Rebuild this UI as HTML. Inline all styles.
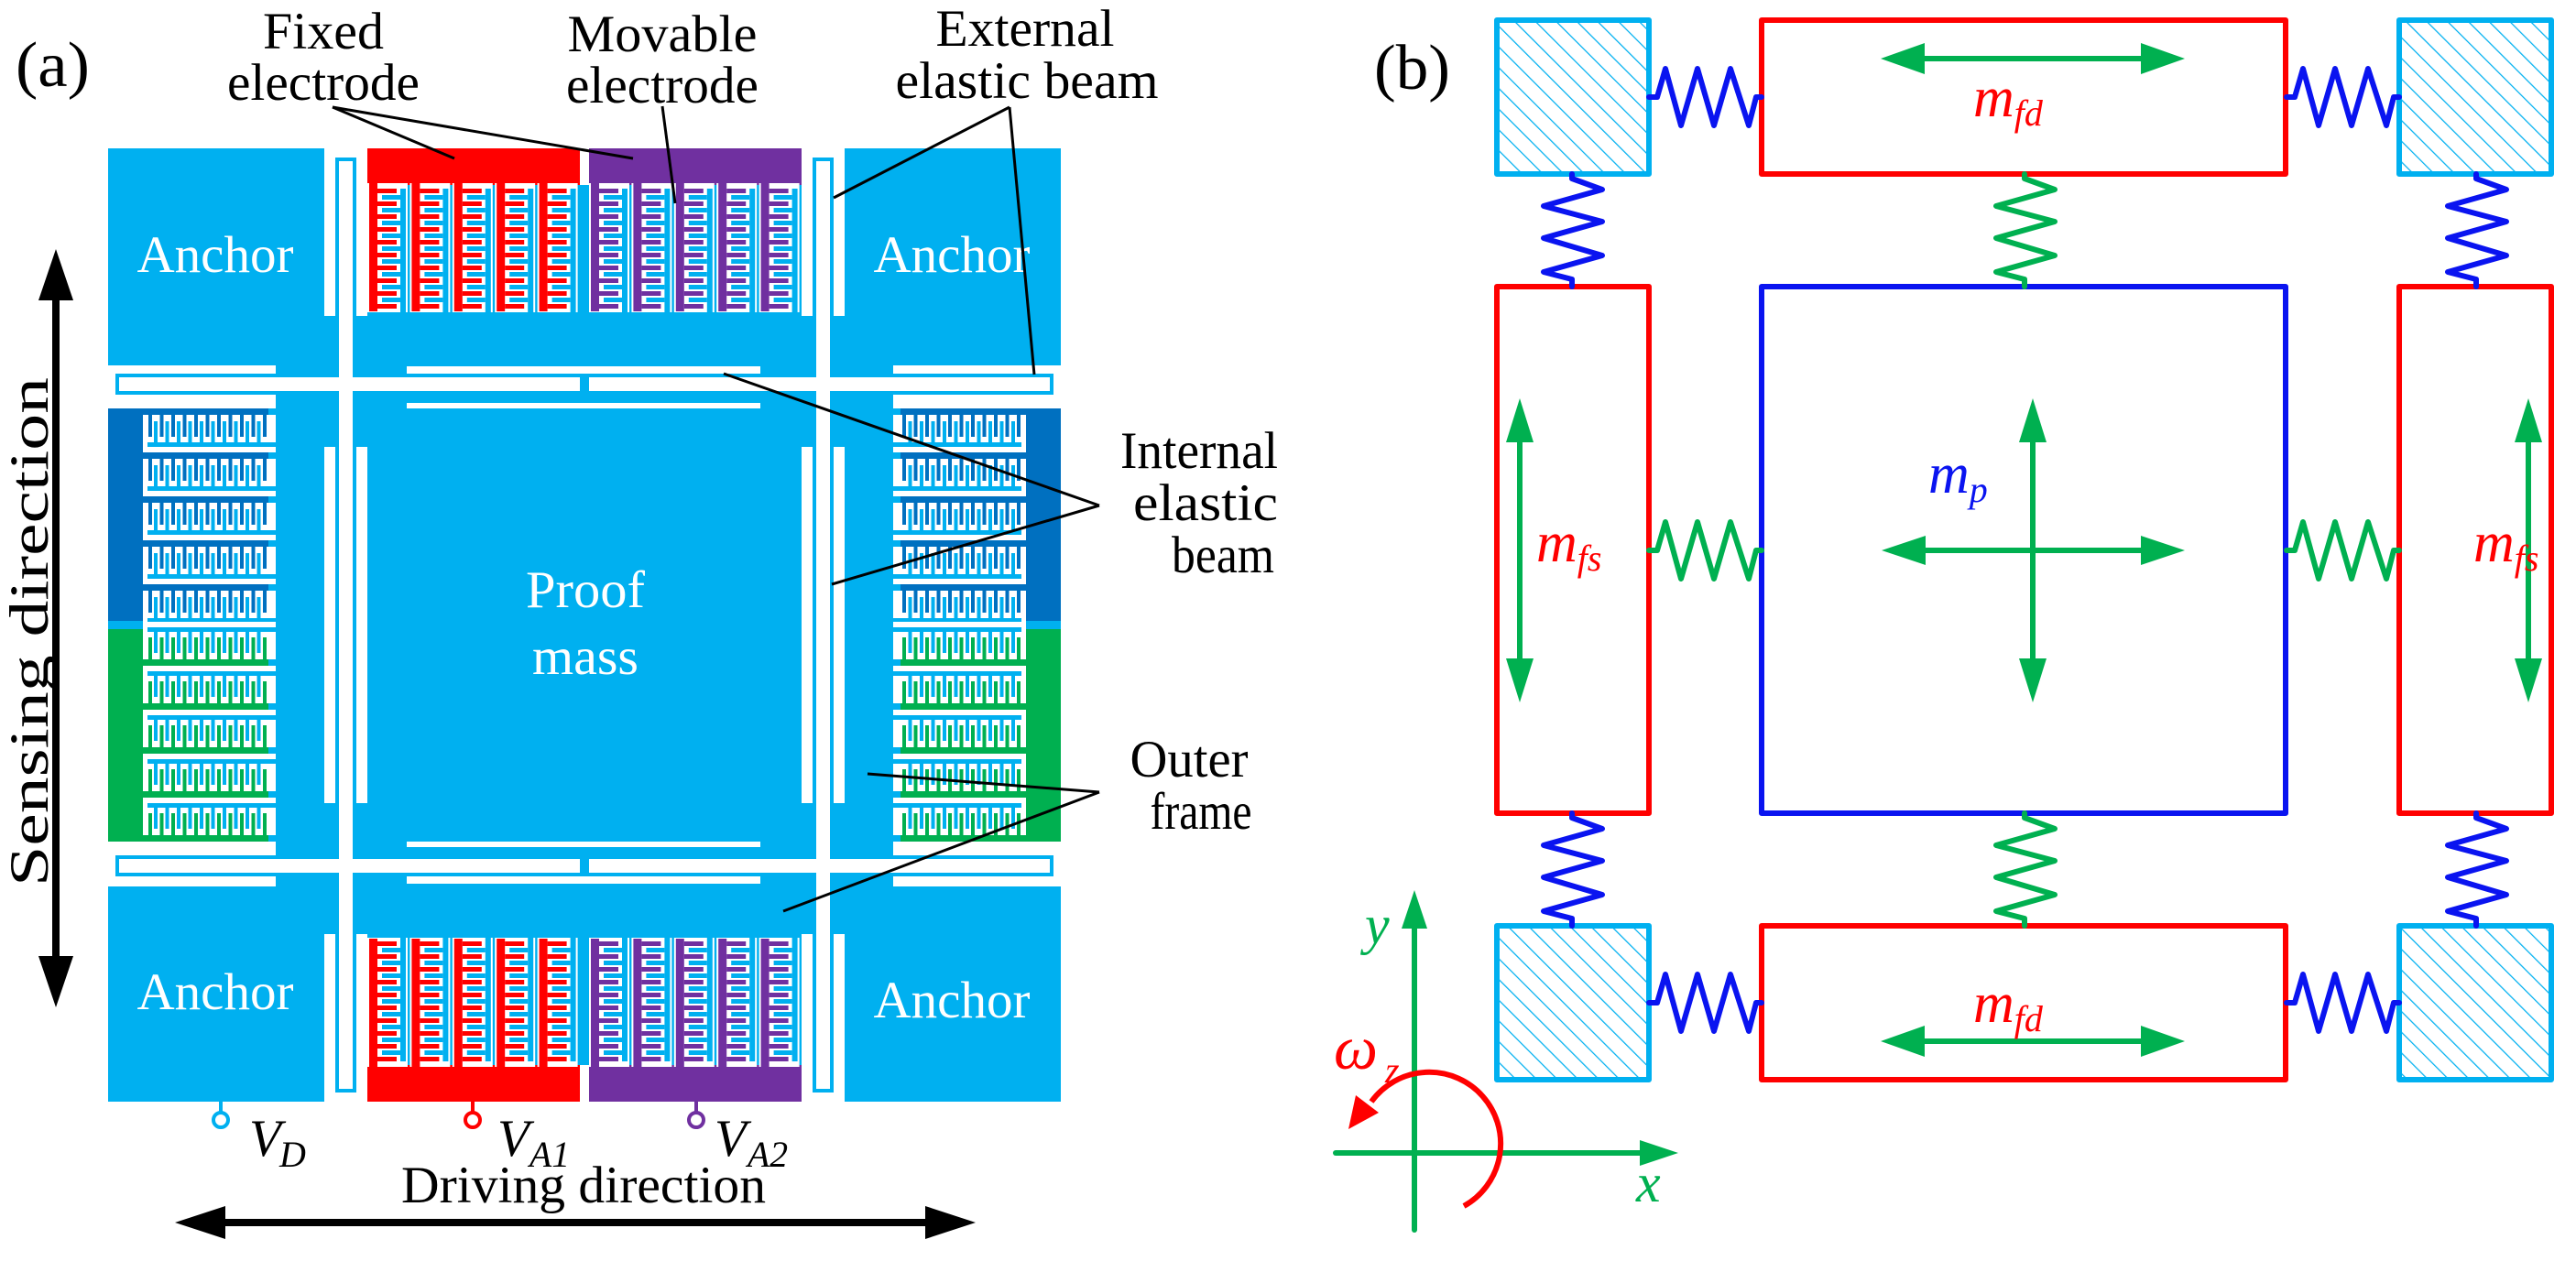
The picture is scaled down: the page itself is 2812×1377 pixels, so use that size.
<!DOCTYPE html>
<html><head><meta charset="utf-8"><style>
html,body{margin:0;padding:0;background:#fff;}
svg{display:block;}
svg text{font-family:"Liberation Serif","DejaVu Serif","Times New Roman",serif;}
</style></head><body>
<svg width="2812" height="1377" viewBox="0 0 2812 1377" xmlns="http://www.w3.org/2000/svg">
<defs>
<pattern id="hatch" width="16" height="16" patternUnits="userSpaceOnUse" patternTransform="rotate(-45)">
<line x1="0" y1="0" x2="0" y2="16" stroke="#00B0F0" stroke-width="2.5"/>
</pattern>
<g id="tu">
<rect x="0" y="0" width="44" height="141" fill="#fff"/>
<rect x="2" y="-2" width="9" height="142" fill="currentColor"/>
<g fill="currentColor">
<rect x="11" y="6" width="21" height="5"/><rect x="11" y="20" width="21" height="5"/><rect x="11" y="34" width="21" height="5"/><rect x="11" y="48" width="21" height="5"/><rect x="11" y="62" width="21" height="5"/><rect x="11" y="76" width="21" height="5"/><rect x="11" y="90" width="21" height="5"/><rect x="11" y="104" width="21" height="5"/><rect x="11" y="118" width="21" height="5"/><rect x="11" y="132" width="21" height="5"/>
</g>
<rect x="36" y="6" width="6" height="140" fill="#00B0F0"/>
<g fill="#00B0F0">
<rect x="16" y="13" width="20" height="5"/><rect x="16" y="27" width="20" height="5"/><rect x="16" y="41" width="20" height="5"/><rect x="16" y="55" width="20" height="5"/><rect x="16" y="69" width="20" height="5"/><rect x="16" y="83" width="20" height="5"/><rect x="16" y="97" width="20" height="5"/><rect x="16" y="111" width="20" height="5"/><rect x="16" y="125" width="20" height="5"/>
</g>
</g>
<g id="sr">
<rect x="38" y="0" width="137" height="7" fill="currentColor"/>
<rect x="38" y="7" width="145" height="41" fill="#fff"/>
<g fill="currentColor">
<rect x="44" y="7" width="4" height="24"/><rect x="56.5" y="7" width="4" height="24"/><rect x="69" y="7" width="4" height="24"/><rect x="81.5" y="7" width="4" height="24"/><rect x="94" y="7" width="4" height="24"/><rect x="106.5" y="7" width="4" height="24"/><rect x="119" y="7" width="4" height="24"/><rect x="131.5" y="7" width="4" height="24"/><rect x="144" y="7" width="4" height="24"/><rect x="156.5" y="7" width="4" height="24"/><rect x="169" y="7" width="4" height="24"/>
</g>
<g fill="#00B0F0">
<rect x="50" y="14" width="4" height="24"/><rect x="62.5" y="14" width="4" height="24"/><rect x="75" y="14" width="4" height="24"/><rect x="87.5" y="14" width="4" height="24"/><rect x="100" y="14" width="4" height="24"/><rect x="112.5" y="14" width="4" height="24"/><rect x="125" y="14" width="4" height="24"/><rect x="137.5" y="14" width="4" height="24"/><rect x="150" y="14" width="4" height="24"/><rect x="162.5" y="14" width="4" height="24"/>
<rect x="43" y="37" width="140" height="5"/>
</g>
</g>
<g id="sblock">
<rect x="118" y="446" width="38" height="232" fill="currentColor"/>
<use href="#sr" x="118" y="446"/><use href="#sr" x="118" y="494"/><use href="#sr" x="118" y="542"/><use href="#sr" x="118" y="590"/><use href="#sr" x="118" y="638"/>
</g>
<g id="topel">
<rect x="401" y="162" width="232" height="40" fill="#FF0000"/>
<rect x="643" y="162" width="232" height="40" fill="#7030A0"/>
<g color="#FF0000"><use href="#tu" x="401" y="200"/><use href="#tu" x="447.4" y="200"/><use href="#tu" x="493.8" y="200"/><use href="#tu" x="540.2" y="200"/><use href="#tu" x="586.6" y="200"/></g>
<g color="#7030A0"><use href="#tu" x="643" y="200"/><use href="#tu" x="689.4" y="200"/><use href="#tu" x="735.8" y="200"/><use href="#tu" x="782.2" y="200"/><use href="#tu" x="828.6" y="200"/></g>
</g>
</defs>

<rect x="118" y="162" width="1040" height="1041" fill="#00B0F0"/>
<g fill="#fff">
<rect x="354" y="162" width="47" height="183"/><rect x="354" y="488" width="47" height="389"/><rect x="354" y="1020" width="47" height="183"/>
<rect x="875" y="162" width="47" height="183"/><rect x="875" y="488" width="47" height="389"/><rect x="875" y="1020" width="47" height="183"/>
<rect x="118" y="399" width="183" height="47"/><rect x="118" y="919" width="183" height="49"/>
<rect x="975" y="399" width="183" height="47"/><rect x="975" y="919" width="183" height="49"/>
<rect x="633" y="162" width="10" height="40"/><rect x="633" y="1163" width="10" height="40"/>
</g>
<use href="#topel"/>
<use href="#topel" transform="translate(0,1365) scale(1,-1)"/>
<g id="leftcombs">
<use href="#sblock" color="#0070C0"/>
<use href="#sblock" color="#00B050" transform="translate(0,1365) scale(1,-1)"/>
</g>
<use href="#leftcombs" transform="translate(1276,0) scale(-1,1)"/>
<g fill="#00B0F0">
<rect x="366" y="172" width="23" height="1021"/>
<rect x="887" y="172" width="23" height="1021"/>
<rect x="126" y="408" width="1024" height="23"/>
<rect x="126" y="934" width="1024" height="23"/>
</g>
<g fill="#fff">
<rect x="370" y="176" width="15" height="1013"/>
<rect x="891" y="176" width="15" height="1013"/>
<rect x="130" y="412" width="1016" height="15"/>
<rect x="130" y="938" width="1016" height="15"/>
<rect x="444" y="400" width="386" height="8"/><rect x="444" y="440" width="386" height="6"/>
<rect x="444" y="919" width="386" height="6"/><rect x="444" y="957" width="386" height="8"/>
</g>
<g fill="#00B0F0"><rect x="633" y="408" width="10" height="23"/><rect x="633" y="934" width="10" height="23"/></g>

<g fill="#fff" font-size="57" text-anchor="middle">
<text x="235" y="297" textLength="171" lengthAdjust="spacingAndGlyphs">Anchor</text>
<text x="1039" y="297" textLength="171" lengthAdjust="spacingAndGlyphs">Anchor</text>
<text x="235" y="1102" textLength="171" lengthAdjust="spacingAndGlyphs">Anchor</text>
<text x="1039" y="1111" textLength="171" lengthAdjust="spacingAndGlyphs">Anchor</text>
<text x="639" y="663" textLength="130" lengthAdjust="spacingAndGlyphs">Proof</text>
<text x="639" y="736" textLength="116" lengthAdjust="spacingAndGlyphs">mass</text>
</g>

<g fill="#000" font-size="57" text-anchor="middle">
<text x="353" y="53" textLength="132" lengthAdjust="spacingAndGlyphs">Fixed</text>
<text x="353" y="109" textLength="210" lengthAdjust="spacingAndGlyphs">electrode</text>
<text x="723" y="56" textLength="207" lengthAdjust="spacingAndGlyphs">Movable</text>
<text x="723" y="112" textLength="210" lengthAdjust="spacingAndGlyphs">electrode</text>
<text x="1119" y="50" textLength="195" lengthAdjust="spacingAndGlyphs">External</text>
<text x="1121" y="107" textLength="287" lengthAdjust="spacingAndGlyphs">elastic beam</text>
<text x="1309" y="511" textLength="172" lengthAdjust="spacingAndGlyphs">Internal</text>
<text x="1316" y="568" textLength="158" lengthAdjust="spacingAndGlyphs">elastic</text>
<text x="1335" y="625" textLength="112" lengthAdjust="spacingAndGlyphs">beam</text>
<text x="1298" y="848" textLength="129" lengthAdjust="spacingAndGlyphs">Outer</text>
<text x="1311" y="905" textLength="111" lengthAdjust="spacingAndGlyphs">frame</text>
<text x="637" y="1313" textLength="398" lengthAdjust="spacingAndGlyphs">Driving direction</text>
</g>
<text x="17" y="94" font-size="70" textLength="81" lengthAdjust="spacingAndGlyphs">(a)</text>
<text x="1500" y="97" font-size="70" textLength="83" lengthAdjust="spacingAndGlyphs">(b)</text>
<text transform="translate(52,690) rotate(-90)" x="0" y="0" font-size="60" text-anchor="middle" textLength="556" lengthAdjust="spacingAndGlyphs">Sensing direction</text>

<g stroke="#000" stroke-width="3" fill="none">
<line x1="363" y1="117" x2="496" y2="173"/>
<line x1="363" y1="117" x2="691" y2="173"/>
<line x1="723" y1="116" x2="737" y2="222"/>
<line x1="1102" y1="117" x2="910" y2="216"/>
<line x1="1102" y1="117" x2="1129" y2="409"/>
<line x1="1200" y1="552" x2="790" y2="408"/>
<line x1="1200" y1="552" x2="908" y2="638"/>
<line x1="1200" y1="865" x2="947" y2="845"/>
<line x1="1200" y1="865" x2="855" y2="995"/>
</g>

<line x1="61" y1="320" x2="61" y2="1050" stroke="#000" stroke-width="8"/>
<polygon points="61,272 42,328 80,328" fill="#000"/>
<polygon points="61,1100 42,1044 80,1044" fill="#000"/>
<line x1="240" y1="1335" x2="1015" y2="1335" stroke="#000" stroke-width="8"/>
<polygon points="191,1335 246,1317 246,1353" fill="#000"/>
<polygon points="1065,1335 1010,1317 1010,1353" fill="#000"/>

<g fill="#fff" stroke-width="4">
<line x1="241" y1="1203" x2="241" y2="1215" stroke="#00B0F0"/>
<circle cx="241" cy="1223" r="8" stroke="#00B0F0"/>
<line x1="516" y1="1203" x2="516" y2="1215" stroke="#FF0000"/>
<circle cx="516" cy="1223" r="8" stroke="#FF0000"/>
<line x1="760" y1="1203" x2="760" y2="1215" stroke="#7030A0"/>
<circle cx="760" cy="1223" r="8" stroke="#7030A0"/>
</g>
<g fill="#000" font-style="italic">
<text x="272" y="1262" font-size="57">V</text><text x="305" y="1274" font-size="40">D</text>
<text x="543" y="1262" font-size="57">V</text><text x="578" y="1274" font-size="40" textLength="44" lengthAdjust="spacingAndGlyphs">A1</text>
<text x="780" y="1262" font-size="57">V</text><text x="816" y="1274" font-size="40" textLength="44" lengthAdjust="spacingAndGlyphs">A2</text>
</g>

<g stroke-width="6" stroke-linejoin="round">
<rect x="1634" y="22" width="166" height="168" fill="url(#hatch)" stroke="#00B0F0"/>
<rect x="2619" y="22" width="166" height="168" fill="url(#hatch)" stroke="#00B0F0"/>
<rect x="1634" y="1011" width="166" height="168" fill="url(#hatch)" stroke="#00B0F0"/>
<rect x="2619" y="1011" width="166" height="168" fill="url(#hatch)" stroke="#00B0F0"/>
<rect x="1923" y="22" width="572" height="168" fill="none" stroke="#FF0000"/>
<rect x="1923" y="1011" width="572" height="168" fill="none" stroke="#FF0000"/>
<rect x="1634" y="313" width="166" height="575" fill="none" stroke="#FF0000"/>
<rect x="2619" y="313" width="166" height="575" fill="none" stroke="#FF0000"/>
<rect x="1923" y="313" width="572" height="575" fill="none" stroke="#0A14F0"/>
</g>
<g fill="none" stroke-width="6" stroke-linejoin="round" stroke-linecap="round">
<g stroke="#0A14F0">
<polyline transform="translate(1800,106)" points="0,0 9,0 18,-31 35,31 53,-31 71,31 89,-31 109,31 117,0 123,0"/>
<polyline transform="translate(2496,106)" points="0,0 9,0 18,-31 35,31 53,-31 71,31 89,-31 109,31 117,0 123,0"/>
<polyline transform="translate(1800,1095)" points="0,0 9,0 18,-31 35,31 53,-31 71,31 89,-31 109,31 117,0 123,0"/>
<polyline transform="translate(2496,1095)" points="0,0 9,0 18,-31 35,31 53,-31 71,31 89,-31 109,31 117,0 123,0"/>
<polyline transform="translate(1716,190)" points="0,0 0,5 33,17 -31,35 33,52 -31,70 33,89 -31,107 0,115 0,123"/>
<polyline transform="translate(2703,190)" points="0,0 0,5 33,17 -31,35 33,52 -31,70 33,89 -31,107 0,115 0,123"/>
<polyline transform="translate(1716,888)" points="0,0 0,5 33,17 -31,35 33,52 -31,70 33,89 -31,107 0,115 0,123"/>
<polyline transform="translate(2703,888)" points="0,0 0,5 33,17 -31,35 33,52 -31,70 33,89 -31,107 0,115 0,123"/>
</g>
<g stroke="#00B050">
<polyline transform="translate(2210,190)" points="0,0 0,5 33,17 -31,35 33,52 -31,70 33,89 -31,107 0,115 0,123"/>
<polyline transform="translate(2210,888)" points="0,0 0,5 33,17 -31,35 33,52 -31,70 33,89 -31,107 0,115 0,123"/>
<polyline transform="translate(1800,601)" points="0,0 9,0 18,-31 35,31 53,-31 71,31 89,-31 109,31 117,0 123,0"/>
<polyline transform="translate(2496,601)" points="0,0 9,0 18,-31 35,31 53,-31 71,31 89,-31 109,31 117,0 123,0"/>
</g>
</g>
<g stroke="#00B050" stroke-width="6">
<line x1="2095" y1="64" x2="2343" y2="64"/>
<line x1="2095" y1="1137" x2="2343" y2="1137"/>
<line x1="1659" y1="475" x2="1659" y2="727"/>
<line x1="2760" y1="475" x2="2760" y2="727"/>
<line x1="2096" y1="601" x2="2343" y2="601"/>
<line x1="2219" y1="475" x2="2219" y2="727"/>
</g>
<g fill="#00B050">
<polygon points="2053,64 2101,47 2101,81"/><polygon points="2385,64 2337,47 2337,81"/>
<polygon points="2053,1137 2101,1120 2101,1154"/><polygon points="2385,1137 2337,1120 2337,1154"/>
<polygon points="2054,601 2102,585 2102,617"/><polygon points="2385,601 2337,585 2337,617"/>
<polygon points="1659,435 1644,483 1674,483"/><polygon points="1659,767 1644,719 1674,719"/>
<polygon points="2760,435 2745,483 2775,483"/><polygon points="2760,767 2745,719 2775,719"/>
<polygon points="2219,435 2204,483 2234,483"/><polygon points="2219,767 2204,719 2234,719"/>
</g>
<g font-style="italic">
<text x="2154" y="127" font-size="62" fill="#FF0000">m<tspan font-size="40" dy="10">fd</tspan></text>
<text x="2154" y="1116" font-size="62" fill="#FF0000">m<tspan font-size="40" dy="10">fd</tspan></text>
<text x="1677" y="613" font-size="62" fill="#FF0000">m<tspan font-size="40" dy="10">fs</tspan></text>
<text x="2700" y="613" font-size="62" fill="#FF0000">m<tspan font-size="40" dy="10">fs</tspan></text>
<text x="2105" y="538" font-size="62" fill="#0A14F0">m<tspan font-size="40" dy="10">p</tspan></text>
</g>
<g stroke="#00B050" stroke-width="6" stroke-linecap="round">
<line x1="1544" y1="1343" x2="1544" y2="1010"/>
<line x1="1458" y1="1259" x2="1795" y2="1259"/>
</g>
<polygon points="1544,972 1530,1014 1558,1014" fill="#00B050"/>
<polygon points="1832,1259 1790,1245 1790,1273" fill="#00B050"/>
<g font-style="italic">
<text x="1490" y="1030" font-size="60" fill="#00B050">y</text>
<text x="1786" y="1312" font-size="60" fill="#00B050">x</text>
<text x="1456" y="1167" font-size="68" fill="#FF0000">ω</text>
<text x="1512" y="1182" font-size="40" fill="#FF0000">z</text>
</g>
<path d="M1598,1317 A78,78 0 1,0 1497,1203" fill="none" stroke="#FF0000" stroke-width="6"/>
<polygon points="1472,1233 1480,1196 1505,1215" fill="#FF0000"/>
</svg>
</body></html>
